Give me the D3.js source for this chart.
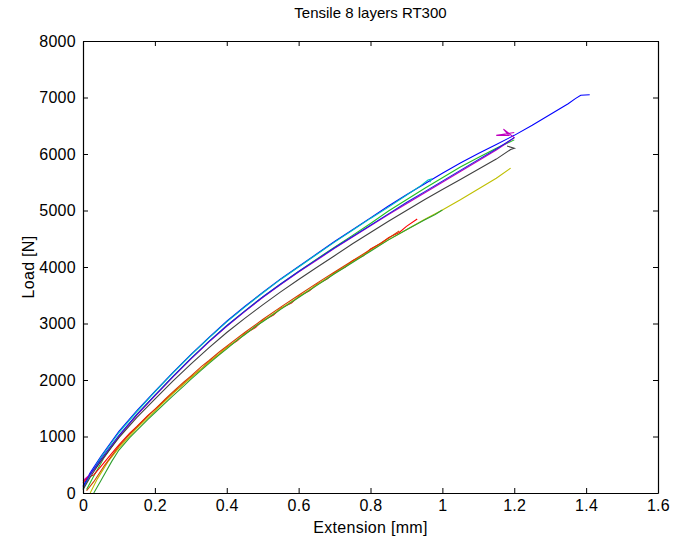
<!DOCTYPE html>
<html lang="en">
  <head>
    <meta charset="utf-8" />
    <title>Tensile 8 layers RT300</title>
    <script type="text/javascript" src="https://d3js.org/d3.v7.min.js"></script>
    <style>
      body { margin: 0; background: #fff; }
      text { font-family: "Liberation Sans", Arial, sans-serif; fill: #000; }
    </style>
  </head>
  <body>
    <script type="text/javascript">
      // Page and plot box
      const WIDTH = 674;
      const HEIGHT = 545;
      const MARGIN = { top: 41, right: 16, bottom: 52, left: 83 };
      const TICK = 5;
      const FONT_SIZE = 16;

      // Axis settings
      const xTicks = [0, 0.2, 0.4, 0.6, 0.8, 1, 1.2, 1.4, 1.6];
      const yTicks = [0, 1000, 2000, 3000, 4000, 5000, 6000, 7000, 8000];
      const titleText = "Tensile 8 layers RT300";
      const xLabel = "Extension [mm]";
      const yLabel = "Load [N]";

      // MATLAB colour order of the old days: b g r c m y k, then again
      const colors = ["#0000ff", "#20c020", "#ff0000", "#00bfbf", "#bf00bf", "#bfbf00", "#404040", "#2020e0", "#30a030", "#d04000"];

      // Test runs, [extension mm, load N]
      const run1 = [[0,120],[0.02,360],[0.05,650],[0.1,1090],[0.15,1460],[0.2,1800],[0.25,2130],[0.3,2450],[0.35,2750],[0.4,3040],[0.45,3300],[0.5,3550],[0.55,3790],[0.6,4010],[0.65,4230],[0.7,4450],[0.75,4660],[0.8,4870],[0.85,5080],[0.9,5280],[0.95,5470],[1.0,5660],[1.05,5840],[1.1,6010],[1.15,6170],[1.2,6330],[1.25,6510],[1.3,6700],[1.35,6890],[1.37,6980],[1.385,7040],[1.41,7050]];
      const run2 = [[0.01,60],[0.03,300],[0.06,640],[0.1,1000],[0.15,1390],[0.2,1730],[0.25,2060],[0.3,2380],[0.35,2680],[0.4,2960],[0.45,3220],[0.5,3470],[0.55,3700],[0.6,3920],[0.65,4140],[0.7,4350],[0.75,4560],[0.8,4770],[0.85,4990],[0.9,5190],[0.95,5390],[1.0,5580],[1.05,5770],[1.1,5940],[1.15,6100],[1.2,6250]];
      const run3 = [[0,180],[0.01,260],[0.03,320],[0.05,470],[0.08,700],[0.1,850],[0.13,1060],[0.15,1180],[0.18,1370],[0.2,1480],[0.23,1650],[0.25,1770],[0.28,1930],[0.3,2050],[0.33,2200],[0.35,2320],[0.38,2460],[0.4,2580],[0.43,2700],[0.45,2820],[0.48,2930],[0.5,3050],[0.53,3150],[0.55,3270],[0.58,3360],[0.6,3480],[0.63,3580],[0.65,3690],[0.68,3790],[0.7,3900],[0.73,4000],[0.75,4110],[0.78,4200],[0.8,4320],[0.83,4420],[0.85,4520],[0.88,4610],[0.9,4720],[0.93,4850]];
      const run4 = [[0,80],[0.02,320],[0.05,630],[0.1,1070],[0.15,1440],[0.2,1790],[0.25,2120],[0.3,2440],[0.35,2740],[0.4,3030],[0.45,3290],[0.5,3540],[0.55,3780],[0.6,4000],[0.65,4220],[0.7,4440],[0.75,4650],[0.8,4860],[0.85,5060],[0.9,5270],[0.94,5440],[0.96,5540],[0.97,5560],[0.965,5500]];
      const run5 = [[0,220],[0.02,330],[0.05,560],[0.1,1000],[0.15,1380],[0.2,1720],[0.25,2050],[0.3,2370],[0.35,2670],[0.4,2950],[0.45,3210],[0.5,3460],[0.55,3690],[0.6,3910],[0.65,4120],[0.7,4330],[0.75,4530],[0.8,4730],[0.85,4930],[0.9,5120],[0.95,5310],[1.0,5500],[1.05,5690],[1.1,5880],[1.15,6070],[1.18,6200],[1.2,6290],[1.17,6440],[1.185,6330],[1.15,6330],[1.2,6380]];
      const run6 = [[0.02,0],[0.04,250],[0.07,560],[0.1,800],[0.15,1150],[0.2,1450],[0.25,1760],[0.3,2040],[0.35,2310],[0.4,2570],[0.45,2810],[0.5,3040],[0.55,3260],[0.6,3470],[0.65,3680],[0.7,3890],[0.75,4090],[0.8,4290],[0.85,4480],[0.9,4660],[0.95,4840],[1.0,5010],[1.05,5190],[1.1,5380],[1.15,5570],[1.19,5750]];
      const run7 = [[0,60],[0.02,280],[0.05,570],[0.1,980],[0.15,1340],[0.2,1660],[0.25,1980],[0.3,2280],[0.35,2570],[0.4,2840],[0.45,3090],[0.5,3330],[0.55,3560],[0.6,3780],[0.65,3990],[0.7,4200],[0.75,4410],[0.8,4610],[0.85,4810],[0.9,5000],[0.95,5190],[1.0,5370],[1.05,5550],[1.1,5730],[1.15,5910],[1.19,6080],[1.2,6100],[1.18,6140]];
      const run8 = [[0,100],[0.02,330],[0.05,600],[0.1,1020],[0.15,1390],[0.2,1730],[0.25,2060],[0.3,2380],[0.35,2680],[0.4,2960],[0.45,3220],[0.5,3470],[0.55,3700],[0.6,3920],[0.65,4130],[0.7,4340],[0.75,4540],[0.8,4740],[0.85,4940],[0.9,5140],[0.95,5330],[1.0,5520],[1.05,5710],[1.1,5900],[1.15,6090],[1.2,6290]];
      const run9 = [[0.03,0],[0.05,220],[0.08,560],[0.1,760],[0.13,980],[0.15,1110],[0.18,1300],[0.2,1420],[0.23,1600],[0.25,1720],[0.28,1890],[0.3,2010],[0.33,2180],[0.35,2290],[0.38,2450],[0.4,2550],[0.43,2710],[0.45,2800],[0.48,2950],[0.5,3030],[0.55,3250],[0.6,3460],[0.65,3670],[0.7,3880],[0.75,4080],[0.8,4280],[0.85,4480],[0.9,4660],[0.95,4830],[0.98,4930],[1.0,5010]];
      const run10 = [[0.01,40],[0.03,200],[0.06,490],[0.1,830],[0.13,1040],[0.15,1170],[0.18,1360],[0.2,1480],[0.23,1670],[0.25,1790],[0.28,1960],[0.3,2070],[0.33,2240],[0.35,2340],[0.38,2500],[0.4,2600],[0.45,2840],[0.5,3070],[0.55,3290],[0.6,3500],[0.65,3710],[0.7,3910],[0.75,4110],[0.8,4310],[0.85,4510],[0.88,4640]];

      const runs = [run1, run2, run3, run4, run5, run6, run7, run8, run9, run10];

      var svg = d3
        .select("body")
        .append("svg")
        .attr("width", WIDTH)
        .attr("height", HEIGHT);

      var x = d3.scaleLinear().domain([0, 1.6]).range([MARGIN.left, WIDTH - MARGIN.right]);
      var y = d3.scaleLinear().domain([0, 8000]).range([HEIGHT - MARGIN.bottom, MARGIN.top]);

      // Curves first, the box goes on top
      var line = d3
        .line()
        .x((d) => x(d[0]))
        .y((d) => y(d[1]));

      svg
        .append("g")
        .selectAll("path")
        .data(runs)
        .enter()
        .append("path")
        .attr("d", line)
        .attr("fill", "none")
        .attr("stroke", (d, i) => colors[i])
        .attr("stroke-width", 1.1);

      // Axes, ticks pointing in on all four sides
      function styleAxis(g) {
        g.selectAll("path, line").attr("stroke", "#000");
        g.select(".domain").attr("stroke-width", 1.2);
        g.selectAll("text").attr("font-size", FONT_SIZE).attr("font-family", null).attr("letter-spacing", 0.3);
      }

      svg
        .append("g")
        .attr("transform", "translate(0," + y(0) + ")")
        .call(d3.axisBottom(x).tickValues(xTicks).tickFormat(d3.format("~g")).tickSize(-TICK).tickSizeOuter(0).tickPadding(7))
        .call(styleAxis);

      svg
        .append("g")
        .attr("transform", "translate(" + x(0) + ",0)")
        .call(d3.axisLeft(y).tickValues(yTicks).tickFormat(d3.format("d")).tickSize(-TICK).tickSizeOuter(0).tickPadding(7))
        .call(styleAxis);

      svg
        .append("g")
        .attr("transform", "translate(0," + y(8000) + ")")
        .call(d3.axisTop(x).tickValues(xTicks).tickFormat("").tickSize(-TICK).tickSizeOuter(0))
        .call(styleAxis);

      svg
        .append("g")
        .attr("transform", "translate(" + x(1.6) + ",0)")
        .call(d3.axisRight(y).tickValues(yTicks).tickFormat("").tickSize(-TICK).tickSizeOuter(0))
        .call(styleAxis);

      // Labels
      svg
        .append("text")
        .attr("x", (x(0) + x(1.6)) / 2)
        .attr("y", 18)
        .attr("text-anchor", "middle")
        .attr("font-size", 15)
        .text(titleText);

      svg
        .append("text")
        .attr("x", (x(0) + x(1.6)) / 2)
        .attr("y", 533)
        .attr("text-anchor", "middle")
        .attr("font-size", FONT_SIZE)
        .attr("letter-spacing", 0.3)
        .text(xLabel);

      svg
        .append("text")
        .attr("transform", "translate(34," + (y(0) + y(8000)) / 2 + ") rotate(-90)")
        .attr("text-anchor", "middle")
        .attr("font-size", FONT_SIZE)
        .attr("letter-spacing", 0.3)
        .text(yLabel);
    </script>
  </body>
</html>
